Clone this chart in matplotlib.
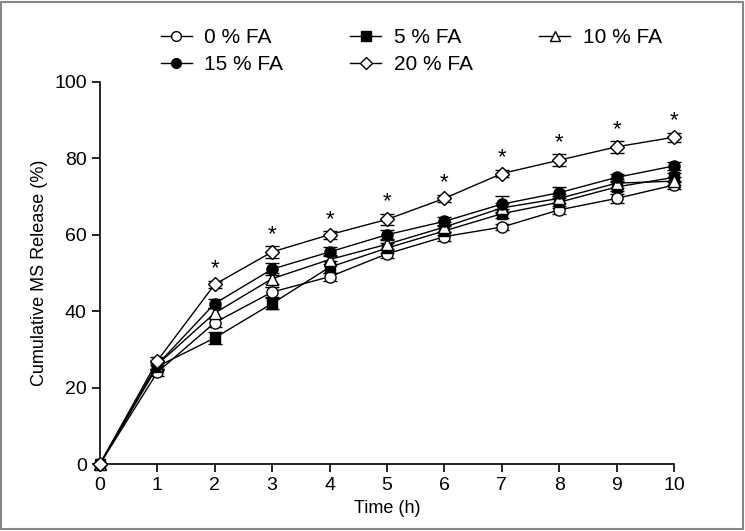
import matplotlib
matplotlib.use('Agg')
import matplotlib.pyplot as plt
from matplotlib.lines import Line2D

plt.rcParams['font.family'] = ['Liberation Sans', 'DejaVu Sans']

# release data
time_h = [0, 1, 2, 3, 4, 5, 6, 7, 8, 9, 10]
labels = ['0 % FA', '5 % FA', '10 % FA', '15 % FA', '20 % FA']
fa0 = [0, 24, 37, 45, 49, 55, 59.5, 62, 66.5, 69.5, 73]
fa5 = [0, 25.5, 33, 42, 51.5, 56.5, 61, 65.5, 68.5, 72.5, 75]
fa10 = [0, 26, 39.5, 48.5, 53.5, 57.5, 62, 67, 69.5, 73.5, 74]
fa15 = [0, 26, 42, 51, 55.5, 60, 63.5, 68, 71, 75, 78]
fa20 = [0, 27, 47, 55.5, 60, 64, 69.5, 76, 79.5, 83, 85.5]
err0 = [0, 1, 1.2, 1.2, 1, 1, 1.2, 0.8, 1, 1.2, 1]
err5 = [0, 1, 1.5, 1.5, 1.5, 1.2, 1.2, 1.2, 1.5, 1.2, 1.2]
err10 = [0, 1, 1.2, 1.5, 1.2, 1.2, 1.2, 1.2, 1.2, 1.2, 1]
err15 = [0, 1, 1.2, 1.5, 1.2, 1.2, 1, 2, 1.5, 1, 1]
err20 = [0, 1, 1, 1.5, 1, 1.5, 1, 1, 1.5, 1.5, 1.2]
star_times = [2, 3, 4, 5, 6, 7, 8, 9, 10]

series = [fa0, fa5, fa10, fa15, fa20]
errors = [err0, err5, err10, err15, err20]
markers = ['o', 's', '^', 'o', 'D']
faces = ['white', 'black', 'white', 'black', 'white']
sizes = [8, 7.5, 8, 8, 7]

fig = plt.figure(figsize=(7.45, 5.31), dpi=100)
ax = fig.add_axes([0.134, 0.126, 0.771, 0.72])

handles = []
for vals, err, m, fc, ms in zip(series, errors, markers, faces, sizes):
    ax.errorbar(time_h, vals, yerr=err, color='black', marker=m, markersize=ms,
                markerfacecolor=fc, markeredgecolor='black', markeredgewidth=1,
                linewidth=1, elinewidth=1, capsize=5, capthick=1,
                clip_on=False, zorder=3)
    handles.append(Line2D([], [], color='black', marker=m, markersize=ms - 1,
                          markerfacecolor=fc, markeredgecolor='black',
                          markeredgewidth=1, linewidth=1))

for t in star_times:
    i = time_h.index(t)
    ax.text(t, fa20[i] + err20[i] + 0.3, '*', ha='center', va='bottom', fontsize=16)

ax.set_xlim(0, 10)
ax.set_ylim(0, 100)
ax.set_xticks(range(0, 11))
ax.set_yticks(range(0, 101, 20))
ax.spines['top'].set_visible(False)
ax.spines['right'].set_visible(False)
ax.spines['left'].set_linewidth(1.2)
ax.spines['bottom'].set_linewidth(1.2)
ax.tick_params(labelsize=14, width=1.2, length=6)
ax.set_xlabel('Time (h)', fontsize=13)
ax.set_ylabel('Cumulative MS Release (%)', fontsize=13)

# legend order: row 1 = 0,5,10 ; row 2 = 15,20
order = [0, 3, 1, 4, 2]
fig.legend([handles[i] for i in order], [labels[i] for i in order],
           loc='upper left', bbox_to_anchor=(0.196, 0.975), ncol=3,
           frameon=False, fontsize=15, handlelength=1.5,
           columnspacing=3.2, labelspacing=0.4, handletextpad=0.6,
           borderpad=0.2)

fig.patches.append(plt.Rectangle((0.002, 0.003), 0.995, 0.994, transform=fig.transFigure,
                                 fill=False, edgecolor='#888888', linewidth=1.5))

fig.savefig('out.png', dpi=100)
